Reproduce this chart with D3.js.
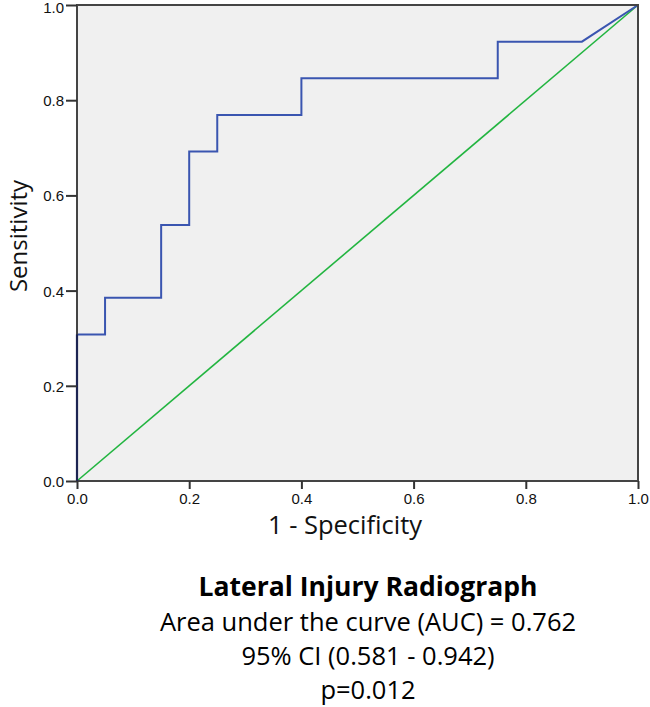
<!DOCTYPE html>
<html><head><meta charset="utf-8">
<script src="https://cdn.jsdelivr.net/npm/d3@7"></script>
<style>body{margin:0;background:#fff;} svg{display:block;}</style>
</head><body>
<div id="chart"></div>
<script>
// ROC curve points (1 - specificity, sensitivity)
const fpr = [0, 0, 0.05, 0.05, 0.15, 0.15, 0.2, 0.2, 0.25, 0.25, 0.4, 0.4, 0.75, 0.75, 0.9, 1];
const tpr = [0, 0.308, 0.308, 0.385, 0.385, 0.538, 0.538, 0.692, 0.692, 0.769, 0.769, 0.846, 0.846, 0.923, 0.923, 1];
const refX = [0, 1];
const refY = [0, 1];
const ticks = [0, 0.2, 0.4, 0.6, 0.8, 1.0];
const xLabel = "1 - Specificity";
const yLabel = "Sensitivity";
const title = "Lateral Injury Radiograph";
const notes = ["Area under the curve (AUC) = 0.762", "95% CI (0.581 - 0.942)", "p=0.012"];

const W = 650, H = 707;
const m = {left: 77, right: 638, top: 5, bottom: 481};
const svg = d3.select("#chart").append("svg").attr("width", W).attr("height", H);

const x = d3.scaleLinear().domain([0, 1]).range([m.left, m.right]);
const y = d3.scaleLinear().domain([0, 1]).range([m.bottom, m.top]);

svg.append("rect").attr("x", m.left).attr("y", m.top)
  .attr("width", m.right - m.left).attr("height", m.bottom - m.top)
  .attr("fill", "#f0f0f0");

const line = d3.line().x(d => x(d[0])).y(d => y(d[1]));

svg.append("path").datum(refX.map((v, i) => [v, refY[i]]))
  .attr("d", line).attr("fill", "none").attr("stroke", "#22b540").attr("stroke-width", 1.6);

svg.append("path").datum(fpr.map((v, i) => [v, tpr[i]]))
  .attr("d", line).attr("fill", "none").attr("stroke", "#3a55b0").attr("stroke-width", 2);

svg.append("rect").attr("x", m.left).attr("y", m.top)
  .attr("width", m.right - m.left).attr("height", m.bottom - m.top)
  .attr("fill", "none").attr("stroke", "#444").attr("stroke-width", 2);
// dark overlap where the curve runs along the left frame
svg.append("line").attr("x1", x(0)).attr("x2", x(0)).attr("y1", y(0)).attr("y2", y(tpr[1]))
  .attr("stroke", "#1c2452").attr("stroke-width", 2.2);

const fmt = d3.format(".1f");
const xAxis = svg.append("g").attr("transform", `translate(0,${m.bottom})`)
  .call(d3.axisBottom(x).tickValues(ticks).tickFormat(fmt).tickSize(8).tickSizeOuter(0));
const yAxis = svg.append("g").attr("transform", `translate(${m.left},0)`)
  .call(d3.axisLeft(y).tickValues(ticks).tickFormat(fmt).tickSize(11).tickSizeOuter(0));
[xAxis, yAxis].forEach(g => {
  g.select(".domain").remove();
  g.selectAll(".tick line").attr("stroke", "#333").attr("stroke-width", 2);
  g.selectAll(".tick text").attr("font-family", "Liberation Sans, Arial, sans-serif")
    .attr("font-size", 15).attr("fill", "#111");
});
xAxis.selectAll(".tick text").attr("dy", "0.75em").attr("y", 12);
yAxis.selectAll(".tick text").attr("x", -13).attr("dy", "0.36em");
yAxis.selectAll(".tick").filter(d => d === 1).select("text").attr("dy", "0.52em");

const lab = "'Open Sans', 'Noto Sans', sans-serif";
svg.append("text").attr("x", 345).attr("y", 534).attr("text-anchor", "middle")
  .attr("font-family", lab).attr("font-size", 25.5).attr("fill", "#111").text(xLabel);
svg.append("text").attr("transform", "translate(27,236) rotate(-90)").attr("text-anchor", "middle")
  .attr("font-family", lab).attr("font-size", 24).attr("fill", "#111").text(yLabel);

svg.append("text").attr("x", 368).attr("y", 596).attr("text-anchor", "middle")
  .attr("font-family", lab).attr("font-weight", "bold").attr("font-size", 26.5).attr("fill", "#000").text(title);
const ny = [631, 665, 699];
notes.forEach((t, i) => {
  svg.append("text").attr("x", 368).attr("y", ny[i]).attr("text-anchor", "middle")
    .attr("font-family", lab).attr("font-size", 25.5).attr("fill", "#000").text(t);
});
</script>
</body></html>
